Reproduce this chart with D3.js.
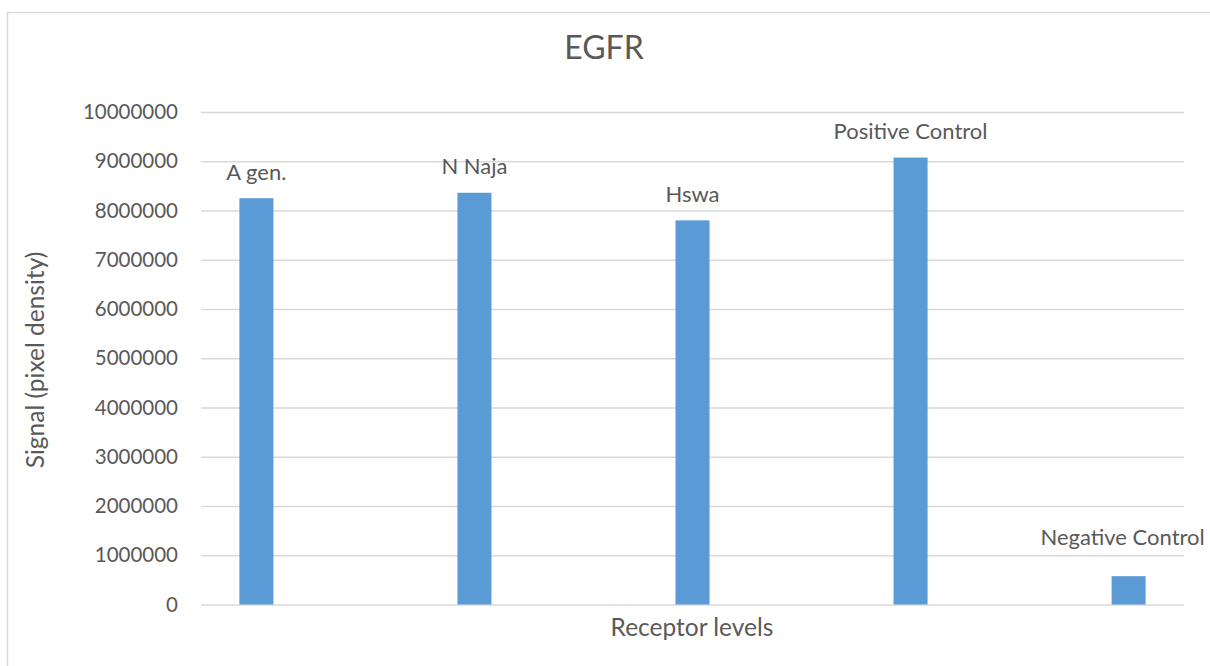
<!DOCTYPE html>
<html>
<head>
<meta charset="utf-8">
<script src="https://cdn.jsdelivr.net/npm/d3@7"></script>
<style>
  html, body { margin: 0; padding: 0; background: #ffffff; }
  svg { display: block; }
  text { font-family: Lato, "Open Sans", sans-serif; fill: #595959; }
</style>
</head>
<body>
<svg id="chart" width="1210" height="666"></svg>
<script>
// EGFR receptor signal per sample
const categories = ["A gen.", "N Naja", "Hswa", "Positive Control", "Negative Control"];
const signalValues = [8250000, 8360000, 7800000, 9075000, 575000];
const yTickValues = [0, 1000000, 2000000, 3000000, 4000000, 5000000, 6000000, 7000000, 8000000, 9000000, 10000000];
const chartTitle = "EGFR";
const xAxisTitle = "Receptor levels";
const yAxisTitle = "Signal (pixel density)";

// label offsets (px) for data labels that sit apart from their bar
const labelShiftX = [0, 0, 0, 0, -6];
const labelShiftY = [0, 0, 0, 0, -13];

const svg = d3.select("#chart");
const W = 1210, H = 666;
const plot = { left: 201, right: 1184, top: 112, bottom: 604.5 };

// chart frame
svg.append("rect")
  .attr("x", 7.5).attr("y", 12.5)
  .attr("width", W + 20).attr("height", H + 20)
  .attr("fill", "#ffffff")
  .attr("stroke", "#d9d9d9").attr("stroke-width", 1.5);

const x = d3.scaleBand()
  .domain(categories)
  .range([plot.left, plot.right])
  .paddingInner(0.844)
  .paddingOuter(0.176);

const y = d3.scaleLinear()
  .domain([0, 10000000])
  .range([plot.bottom, plot.top]);

// gridlines + y tick labels
const yAxis = d3.axisLeft(y)
  .tickValues(yTickValues)
  .tickSize(-(plot.right - plot.left))
  .tickPadding(23)
  .tickFormat(d3.format("d"));

const gy = svg.append("g")
  .attr("transform", `translate(${plot.left},0)`)
  .call(yAxis);
gy.select(".domain").remove();
gy.selectAll(".tick line").attr("stroke", "#d9d9d9").attr("stroke-width", 1.5);
gy.selectAll(".tick text")
  .attr("fill", "#595959")
  .style("font-family", "Lato, sans-serif")
  .style("font-size", "20.5px");

// bars
svg.append("g").selectAll("rect")
  .data(categories)
  .join("rect")
  .attr("x", d => x(d))
  .attr("width", x.bandwidth())
  .attr("y", (d, i) => y(signalValues[i]))
  .attr("height", (d, i) => y(0) - y(signalValues[i]))
  .attr("fill", "#5b9bd5");

// data labels (category names above bars)
svg.append("g").selectAll("text")
  .data(categories)
  .join("text")
  .attr("x", (d, i) => x(d) + x.bandwidth() / 2 + labelShiftX[i])
  .attr("y", (d, i) => y(signalValues[i]) - 18.5 + labelShiftY[i])
  .attr("text-anchor", "middle")
  .style("font-size", "22px")
  .text(d => d);

// title
svg.append("text")
  .attr("x", 604).attr("y", 59)
  .attr("text-anchor", "middle")
  .style("font-size", "32px")
  .text(chartTitle);

// x axis title
svg.append("text")
  .attr("x", 692).attr("y", 636)
  .attr("text-anchor", "middle")
  .style("font-size", "24.5px")
  .text(xAxisTitle);

// y axis title
svg.append("text")
  .attr("transform", `translate(44,360) rotate(-90)`)
  .attr("text-anchor", "middle")
  .style("font-size", "24.5px")
  .text(yAxisTitle);
</script>
</body>
</html>
